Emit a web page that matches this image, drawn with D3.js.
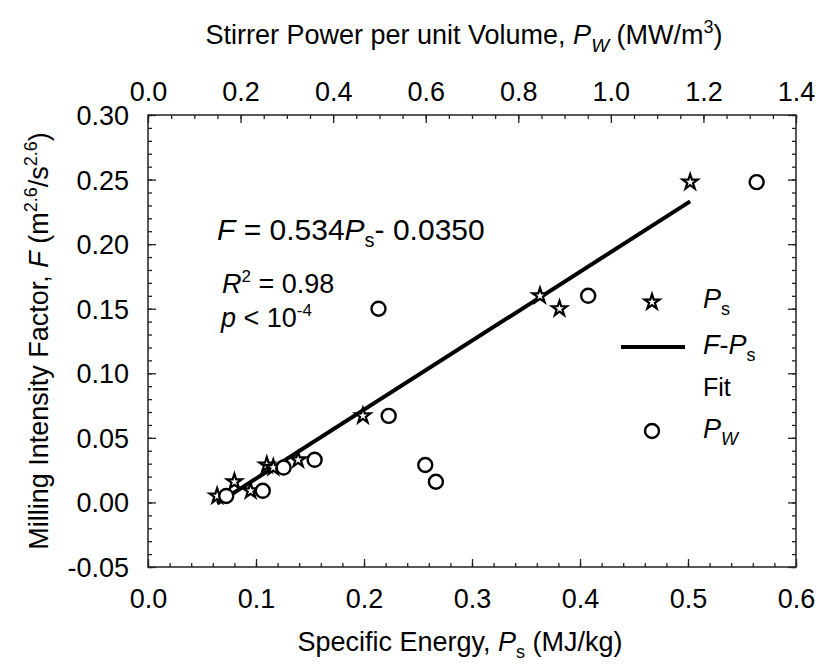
<!DOCTYPE html>
<html>
<head>
<meta charset="utf-8">
<script src="https://cdn.jsdelivr.net/npm/d3@7"></script>
<style>
  body { margin: 0; background: #fff; }
  svg text { font-family: "Liberation Sans", Arial, Helvetica, sans-serif; fill: #000; }
</style>
</head>
<body>
<div id="chart"></div>
<script>
// samples (one entry per run)
var specificEnergy = [0.064, 0.080, 0.095, 0.110, 0.116, 0.139, 0.199, 0.363, 0.381, 0.502]; // Ps, MJ/kg
var stirrerPower   = [0.169, 0.622, 0.248, 0.599, 0.293, 0.360, 0.520, 0.951, 0.498, 1.315]; // Pw, MW/m3
var intensity      = [0.005, 0.016, 0.009, 0.029, 0.027, 0.033, 0.067, 0.160, 0.150, 0.248]; // F

var fitSlope = 0.534, fitIntercept = -0.0350;

var bottomTicks = [0.0, 0.1, 0.2, 0.3, 0.4, 0.5, 0.6];
var topTicks = [0.0, 0.2, 0.4, 0.6, 0.8, 1.0, 1.2, 1.4];
var leftTicks = [-0.05, 0.00, 0.05, 0.10, 0.15, 0.20, 0.25, 0.30];

var width = 820, height = 665;
var margin = { top: 115, right: 24, bottom: 98, left: 148 };
var w = width - margin.left - margin.right;
var h = height - margin.top - margin.bottom;

var svg = d3.select("#chart").append("svg")
  .attr("width", width)
  .attr("height", height);

var g = svg.append("g")
  .attr("transform", "translate(" + margin.left + "," + margin.top + ")");

var x = d3.scaleLinear().domain([0, 0.6]).range([0, w]);
var xTop = d3.scaleLinear().domain([0, 1.4]).range([0, w]);
var y = d3.scaleLinear().domain([-0.05, 0.30]).range([h, 0]);

// minor tick positions
function minors(lo, hi, step) {
  var out = [];
  var n = Math.round((hi - lo) / step);
  for (var i = 0; i <= n; i++) out.push(+(lo + i * step).toFixed(4));
  return out;
}

// plain hyphen for negatives, like the original
function fmt(p) {
  return function (d) { return d.toFixed(p); };
}

var tickFont = "27px";

// bottom axis
g.append("g").attr("class", "axis").attr("transform", "translate(0," + h + ")")
  .call(d3.axisBottom(x).tickValues(minors(0, 0.6, 0.02)).tickSize(-4).tickFormat(""));
var bAx = g.append("g").attr("class", "axis").attr("transform", "translate(0," + h + ")")
  .call(d3.axisBottom(x).tickValues(bottomTicks).tickSize(-8).tickFormat(fmt(1)));
bAx.selectAll("text").attr("y", 41).attr("dy", null).style("font-size", tickFont);

// top axis
g.append("g").attr("class", "axis")
  .call(d3.axisTop(xTop).tickValues(minors(0, 1.4, 0.05)).tickSize(-4).tickFormat(""));
var tAx = g.append("g").attr("class", "axis")
  .call(d3.axisTop(xTop).tickValues(topTicks).tickSize(-8).tickFormat(fmt(1)));
tAx.selectAll("text").attr("y", -14).attr("dy", null).style("font-size", tickFont);

// left axis
g.append("g").attr("class", "axis")
  .call(d3.axisLeft(y).tickValues(minors(-0.05, 0.30, 0.01)).tickSize(-4).tickFormat(""));
var lAx = g.append("g").attr("class", "axis")
  .call(d3.axisLeft(y).tickValues(leftTicks).tickSize(-8).tickFormat(fmt(2)));
lAx.selectAll("text").attr("x", -19).attr("dy", "0.35em").style("font-size", tickFont);

// right axis, ticks only
g.append("g").attr("class", "axis").attr("transform", "translate(" + w + ",0)")
  .call(d3.axisRight(y).tickValues(minors(-0.05, 0.30, 0.01)).tickSize(-4).tickFormat(""));
g.append("g").attr("class", "axis").attr("transform", "translate(" + w + ",0)")
  .call(d3.axisRight(y).tickValues(leftTicks).tickSize(-8).tickFormat(""));

g.selectAll(".axis .domain").remove();
g.selectAll(".axis line").attr("stroke", "#222").attr("stroke-width", 1.3);

g.append("rect")
  .attr("width", w).attr("height", h)
  .attr("fill", "none").attr("stroke", "#222").attr("stroke-width", 1.5);

// fit line over the Ps range
var psExtent = d3.extent(specificEnergy);
g.append("line")
  .attr("x1", x(psExtent[0])).attr("y1", y(fitSlope * psExtent[0] + fitIntercept))
  .attr("x2", x(psExtent[1])).attr("y2", y(fitSlope * psExtent[1] + fitIntercept))
  .attr("stroke", "#000").attr("stroke-width", 4);

var star = d3.symbol().type(d3.symbolStar).size(70);

g.selectAll(".star")
  .data(specificEnergy)
  .enter().append("path")
  .attr("class", "star")
  .attr("d", star)
  .attr("transform", function (d, i) {
    return "translate(" + x(d) + "," + y(intensity[i]) + ")";
  })
  .attr("fill", "#fff").attr("stroke", "#000").attr("stroke-width", 2.2);

g.selectAll(".pw")
  .data(stirrerPower)
  .enter().append("circle")
  .attr("class", "pw")
  .attr("cx", function (d) { return xTop(d); })
  .attr("cy", function (d, i) { return y(intensity[i]); })
  .attr("r", 7)
  .attr("fill", "#fff").attr("stroke", "#000").attr("stroke-width", 2.4);

// annotation
var eq = svg.append("text").attr("x", 217).attr("y", 240).style("font-size", "30px");
eq.append("tspan").style("font-style", "italic").text("F");
eq.append("tspan").text(" = 0.534");
eq.append("tspan").style("font-style", "italic").text("P");
eq.append("tspan").attr("dy", 7).style("font-size", "20px").text("s");
eq.append("tspan").attr("dy", -7).text("- 0.0350");

var r2 = svg.append("text").attr("x", 222).attr("y", 293).style("font-size", "27px");
r2.append("tspan").style("font-style", "italic").text("R");
r2.append("tspan").attr("dy", -11).style("font-size", "17px").text("2");
r2.append("tspan").attr("dy", 11).text(" = 0.98");

var pv = svg.append("text").attr("x", 221).attr("y", 327).style("font-size", "27px");
pv.append("tspan").style("font-style", "italic").text("p");
pv.append("tspan").text(" < 10");
pv.append("tspan").attr("dy", -11).style("font-size", "17px").text("-4");

// legend
var legend = svg.append("g");
legend.append("path").attr("d", star)
  .attr("transform", "translate(652,302)")
  .attr("fill", "#fff").attr("stroke", "#000").attr("stroke-width", 2.2);
var l1 = legend.append("text").attr("x", 703).attr("y", 308).style("font-size", "27px");
l1.append("tspan").style("font-style", "italic").text("P");
l1.append("tspan").attr("dy", 7).style("font-size", "18px").text("s");

legend.append("line").attr("x1", 621).attr("x2", 685).attr("y1", 347).attr("y2", 347)
  .attr("stroke", "#000").attr("stroke-width", 4);
var l2 = legend.append("text").attr("x", 703).attr("y", 354).style("font-size", "27px");
l2.append("tspan").style("font-style", "italic").text("F");
l2.append("tspan").text("-");
l2.append("tspan").style("font-style", "italic").text("P");
l2.append("tspan").attr("dy", 7).style("font-size", "18px").text("s");
legend.append("text").attr("x", 703).attr("y", 396).style("font-size", "25px").text("Fit");

legend.append("circle").attr("cx", 652).attr("cy", 431).attr("r", 7)
  .attr("fill", "#fff").attr("stroke", "#000").attr("stroke-width", 2.4);
var l3 = legend.append("text").attr("x", 703).attr("y", 438).style("font-size", "27px");
l3.append("tspan").style("font-style", "italic").text("P");
l3.append("tspan").attr("dy", 7).style("font-size", "18px").style("font-style", "italic").text("W");

// axis titles
var bt = svg.append("text").attr("x", margin.left + w / 2 - 12).attr("y", 651)
  .attr("text-anchor", "middle").style("font-size", "27px");
bt.append("tspan").text("Specific Energy, ");
bt.append("tspan").style("font-style", "italic").text("P");
bt.append("tspan").attr("dy", 7).style("font-size", "18px").text("s");
bt.append("tspan").attr("dy", -7).text(" (MJ/kg)");

var tt = svg.append("text").attr("x", margin.left + w / 2 - 8).attr("y", 44)
  .attr("text-anchor", "middle").style("font-size", "27px");
tt.append("tspan").text("Stirrer Power per unit Volume, ");
tt.append("tspan").style("font-style", "italic").text("P");
tt.append("tspan").attr("dy", 8).style("font-size", "19px").style("font-style", "italic").text("W");
tt.append("tspan").attr("dy", -8).text(" (MW/m");
tt.append("tspan").attr("dy", -11).style("font-size", "18px").text("3");
tt.append("tspan").attr("dy", 11).text(")");

var lt = svg.append("text")
  .attr("transform", "translate(48," + (margin.top + h / 2) + ") rotate(-90)")
  .attr("text-anchor", "middle").style("font-size", "27px");
lt.append("tspan").text("Milling Intensity Factor, ");
lt.append("tspan").style("font-style", "italic").text("F");
lt.append("tspan").text(" (m");
lt.append("tspan").attr("dy", -11).style("font-size", "18px").text("2.6");
lt.append("tspan").attr("dy", 11).text("/s");
lt.append("tspan").attr("dy", -11).style("font-size", "18px").text("2.6");
lt.append("tspan").attr("dy", 11).text(")");
</script>
</body>
</html>
